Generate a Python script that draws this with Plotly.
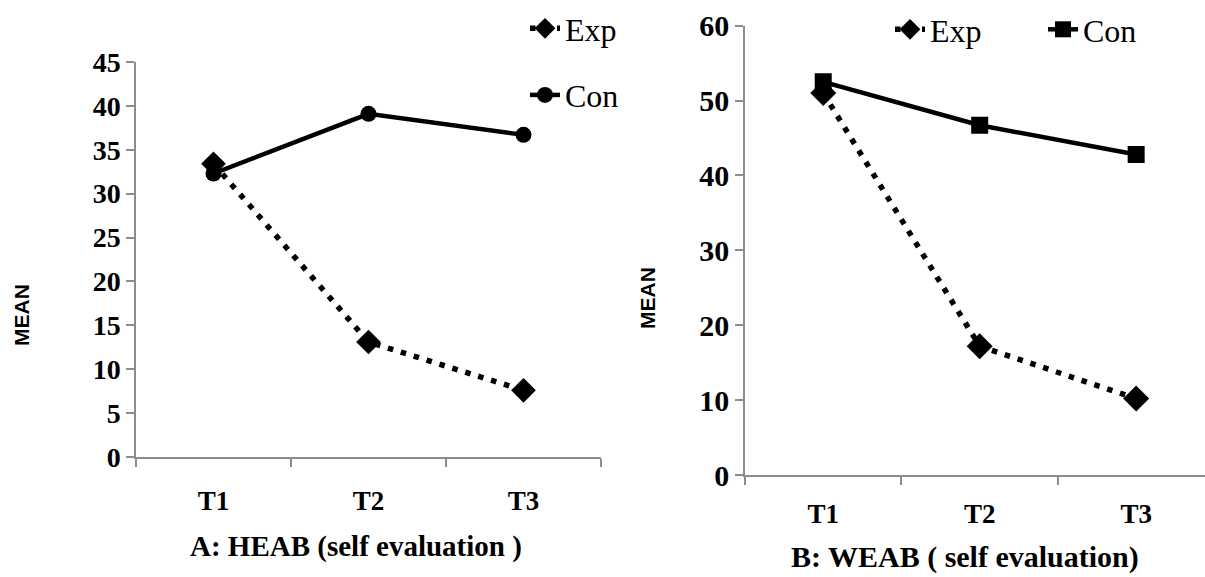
import plotly.graph_objects as go

categories = ["T1", "T2", "T3"]
a_exp = [33.4, 13.1, 7.6]
a_con = [32.3, 39.1, 36.7]
b_exp = [51.0, 17.2, 10.2]
b_con = [52.5, 46.7, 42.8]
a_yticks = [0, 5, 10, 15, 20, 25, 30, 35, 40, 45]
b_yticks = [0, 10, 20, 30, 40, 50, 60]

W, H = 1205, 577
serif = "Liberation Serif"
sans = "Liberation Sans"
axcol = "#8c8c8c"
dotted = dict(color="black", width=5.5, dash="5.5px,8px")

fig = go.Figure()
fig.add_trace(go.Scatter(x=categories, y=a_exp, name="Exp", mode="lines+markers",
                         line=dotted,
                         marker=dict(symbol="diamond", size=19, color="black"),
                         xaxis="x", yaxis="y", legend="legend", legendgroup="ae"))
fig.add_trace(go.Scatter(x=categories, y=a_con, name="Con", mode="lines+markers",
                         line=dict(color="black", width=4.5),
                         marker=dict(symbol="circle", size=16, color="black"),
                         xaxis="x", yaxis="y", legend="legend", legendgroup="ac"))
fig.add_trace(go.Scatter(x=categories, y=b_exp, name="Exp", mode="lines+markers",
                         line=dotted,
                         marker=dict(symbol="diamond", size=20, color="black"),
                         xaxis="x2", yaxis="y2", legend="legend2"))
fig.add_trace(go.Scatter(x=categories, y=b_con, name="Con", mode="lines+markers",
                         line=dict(color="black", width=4.5),
                         marker=dict(symbol="square", size=17, color="black"),
                         xaxis="x2", yaxis="y2", legend="legend2"))

common_x = dict(type="category", tickson="boundaries", ticks="outside", ticklen=8,
                tickcolor=axcol, tickwidth=1.5, showline=True, linecolor=axcol,
                linewidth=1.5, showgrid=False, zeroline=False, automargin=False,
                tickfont=dict(family=serif, size=27, color="black", weight="bold"))
common_y = dict(ticks="outside", ticklen=8, tickcolor=axcol, tickwidth=1.5,
                showline=True, linecolor=axcol, linewidth=1.5, showgrid=False,
                zeroline=False, automargin=False,
                tickfont=dict(family=serif, size=28, color="black", weight="bold"))

fig.update_layout(
    width=W, height=H,
    margin=dict(l=0, r=0, t=0, b=0, autoexpand=False),
    paper_bgcolor="white", plot_bgcolor="white",
    xaxis=dict(common_x, domain=[136 / W, 601 / W], range=[-0.5, 2.5],
               anchor="y", ticklabelstandoff=19),
    yaxis=dict(common_y, domain=[1 - 457 / H, 1 - 62 / H], range=[0, 45],
               tickvals=a_yticks, anchor="x"),
    xaxis2=dict(common_x, domain=[745 / W, 1.0], range=[-0.5, 2.44],
                anchor="y2", ticklabelstandoff=14),
    yaxis2=dict(common_y, domain=[1 - 475 / H, 1 - 25.7 / H], range=[0, 60],
                tickvals=b_yticks, anchor="x2",
                tickfont=dict(family=serif, size=30, color="black", weight="bold")),
    legend=dict(x=525 / W, y=1 - 1 / H, xanchor="left", yanchor="top",
                orientation="v", tracegroupgap=22, bgcolor="rgba(0,0,0,0)",
                font=dict(family=serif, size=32, color="black")),
    legend2=dict(x=890 / W, y=1 - 2 / H, xanchor="left", yanchor="top",
                 orientation="h", bgcolor="rgba(0,0,0,0)", entrywidth=108,
                 font=dict(family=serif, size=32, color="black")),
    annotations=[
        dict(text="A: HEAB (self evaluation )", x=356 / W, y=1 - 546 / H,
             xanchor="center", yanchor="middle",
             xref="paper", yref="paper", showarrow=False,
             font=dict(family=serif, size=29, color="black", weight="bold")),
        dict(text="B: WEAB ( self evaluation)", x=965 / W, y=1 - 557 / H,
             xanchor="center", yanchor="middle",
             xref="paper", yref="paper", showarrow=False,
             font=dict(family=serif, size=30, color="black", weight="bold")),
        dict(text="MEAN", x=22 / W, y=1 - 315 / H, textangle=-90,
             xanchor="center", yanchor="middle",
             xref="paper", yref="paper", showarrow=False,
             font=dict(family=sans, size=21, color="black", weight="bold")),
        dict(text="MEAN", x=647 / W, y=1 - 298 / H, textangle=-90,
             xanchor="center", yanchor="middle",
             xref="paper", yref="paper", showarrow=False,
             font=dict(family=sans, size=21, color="black", weight="bold")),
    ],
)

fig.write_html("out.html",
               config={"displayModeBar": False},
               post_script="document.body.style.margin='0';"
                           "document.body.style.padding='0';"
                           "document.body.style.overflow='hidden';")
